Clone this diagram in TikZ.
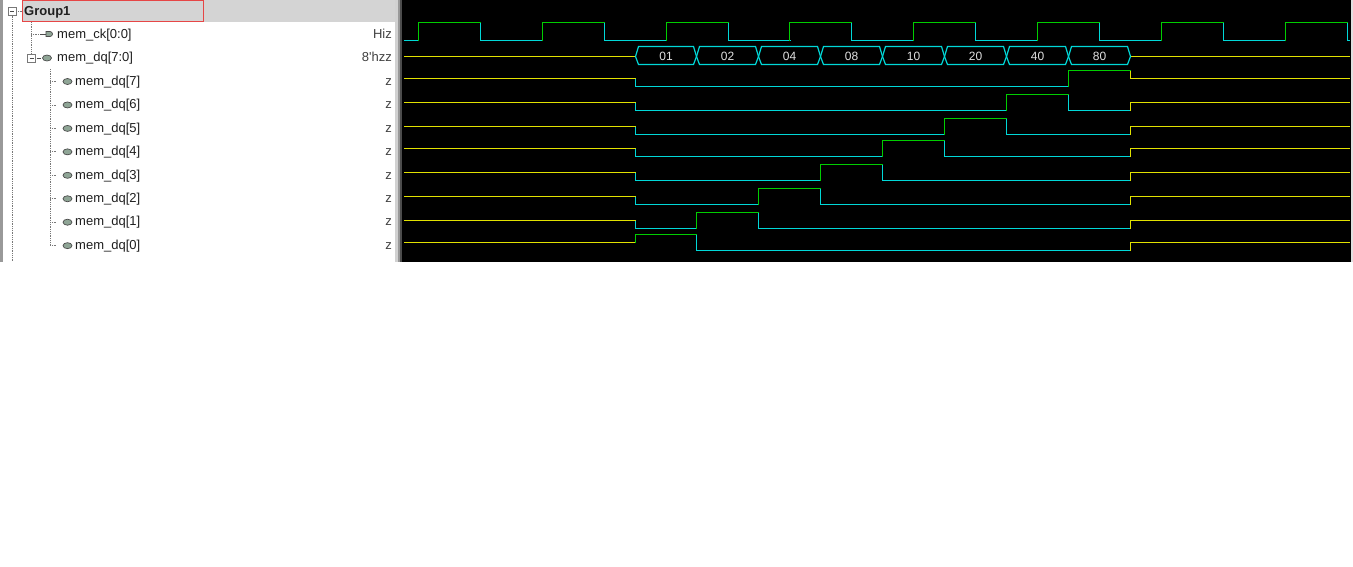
\documentclass[tikz,border=0pt]{standalone}
\usepackage{fontspec}
\setmainfont{Liberation Sans}
\definecolor{wgreen}{RGB}{0,205,0}
\definecolor{wcyan}{RGB}{0,215,215}
\definecolor{wyellow}{RGB}{225,225,0}
\definecolor{hdrgray}{RGB}{212,212,212}
\definecolor{treegray}{RGB}{120,120,120}
\definecolor{pinfill}{RGB}{143,165,150}
\definecolor{boxred}{RGB}{230,70,70}
\definecolor{hexcol}{RGB}{225,225,225}
\begin{document}
\begin{tikzpicture}[x=1pt,y=-1pt,
  hiw/.style={wgreen,line width=1.3pt},
  low/.style={wcyan,line width=1.3pt},
  zw/.style={wyellow,line width=1.3pt},
  busbox/.style={draw=wcyan,line width=1.2pt},
  treeline/.style={treegray,densely dotted,line width=0.8pt},
  exbox/.style={draw=treegray,fill=white,line width=0.8pt},
  pin/.style={draw=black!70,fill=pinfill,line width=0.7pt},
  namelabel/.style={anchor=base west,inner sep=0pt,font=\fontsize{13}{15}\selectfont,text=black!88},
  vallabel/.style={anchor=base east,inner sep=0pt,font=\fontsize{13}{15}\selectfont,text=black!75},
  hexlabel/.style={anchor=base,inner sep=0pt,font=\fontsize{12}{14}\selectfont,text=hexcol}]
\useasboundingbox (0,0) rectangle (1353,566);
\fill[white] (0,0) rectangle (1353,566);
% ---------- left panel ----------
\fill[black!40] (0,0) rectangle (2.5,262);
\fill[hdrgray] (22,0) rectangle (395,22);
\draw[boxred,line width=1pt] (22.5,0.5) rectangle (203.5,21.5);
% separator
\fill[black!18] (395,0) rectangle (398,262);
\fill[black!40] (398,0) rectangle (400,262);
\fill[black!70] (400,0) rectangle (402,262);
% tree lines
\draw[treeline] (12,15.5) -- (12,262);
\draw[treeline] (16,11.5) -- (22,11.5);
\draw[exbox] (8,7.5) rectangle (16,15.5);
\draw[black!70,line width=0.8pt] (10,11.5) -- (14,11.5);
\draw[treeline] (31,22) -- (31,54);
\draw[treeline] (31,34) -- (41,34);
\draw[black!70,line width=0.8pt] (40,34) -- (46,34);
\draw[pin] (46,31.5) -- (50,31.5) arc[start angle=90,end angle=-90,radius=2.5pt] -- (46,36.5) -- cycle;
\draw[exbox] (27.5,54) rectangle (35.5,62);
\draw[black!70,line width=0.8pt] (29.5,58) -- (33.5,58);
\draw[black!70,line width=0.8pt] (36.5,58) -- (40.5,58);
\draw[pin] (47,58) ellipse [x radius=4.5pt,y radius=3pt];
\draw[treeline] (50,69) -- (50,245.5);
\foreach \r in {0,...,7}{
  \pgfmathsetmacro\yy{81.5+23.45*\r}
  \draw[treeline] (50,\yy) -- (57,\yy);
  \draw[pin] (67.5,\yy) ellipse [x radius=4.5pt,y radius=3pt];
}
% labels
\node[namelabel,font=\bfseries\fontsize{13}{15}\selectfont] (grp) at (24,15) {Group1};
\node[namelabel] (ck) at (57,38.3) {mem\_ck[0:0]};
\node[namelabel] (dq) at (57,61.8) {mem\_dq[7:0]};
\node[vallabel] (ckv) at (392,38.3) {Hiz};
\node[vallabel] (dqv) at (392,61.8) {8\textquotesingle hzz};
\foreach \b in {0,...,7}{
  \pgfmathsetmacro\yy{85.2+23.45*(7-\b)}
  \node[namelabel] (dq\b) at (75,\yy) {mem\_dq[\b]};
  \node[vallabel] (dqv\b) at (392,\yy) {z};
}
% ---------- waveform panel ----------
\fill[black] (402,0) rectangle (1351,262);
\fill[black!12] (1351,0) rectangle (1353,262);
% clock
\draw[low] (404,40.5) -- (418.5,40.5);
\foreach \k in {0,...,7}{
  \pgfmathsetmacro\ri{floor(418.3+123.9*\k)+0.5}
  \pgfmathsetmacro\fa{floor(480.3+123.9*\k)+0.5}
  \pgfmathsetmacro\en{min(\fa+62,1350)}
  \draw[hiw] (\ri,40.5) -- (\ri,22.5) -- (\fa,22.5);
  \draw[low] (\fa,22.5) -- (\fa,40.5) -- (\en,40.5);
}
% bus
\draw[zw] (404,56.5) -- (635.5,56.5);
\draw[zw] (1130.5,56.5) -- (1350,56.5);
\foreach \v [count=\i from 0] in {01,02,04,08,10,20,40,80}{
  \pgfmathsetmacro\xa{floor(635+61.9*\i)+0.5}
  \pgfmathsetmacro\xb{floor(635+61.9*(\i+1))+0.5}
  \draw[busbox] (\xa,56.5) -- (\xa+3,46.5) -- (\xb-3,46.5) -- (\xb,56.5) -- (\xb-3,64.5) -- (\xa+3,64.5) -- cycle;
  \node[hexlabel] (hx\i) at ({(\xa+\xb)/2},60.5) {\v};
}
% bits
\foreach \b in {0,...,7}{
  \pgfmathsetmacro\yz{2*floor((79+23.5*(7-\b))/2)+0.5}
  \pgfmathsetmacro\yh{2*floor((\yz-8.5)/2)+0.5}
  \pgfmathsetmacro\yl{2*floor((\yz+9.3)/2)+0.5}
  \pgfmathsetmacro\ta{floor(635+61.9*\b)+0.5}
  \pgfmathsetmacro\tb{floor(635+61.9*(\b+1))+0.5}
  \pgfmathsetmacro\ys{\b==0 ? \yz : \yl}
  \pgfmathsetmacro\ye{\b==7 ? \yh : \yl}
  \draw[zw] (404,\yz) -- (635.5,\yz);
  \ifnum\b>0
    \draw[low] (635.5,\yz) -- (635.5,\yl) -- (\ta,\yl);
  \fi
  \draw[hiw] (\ta,\ys) -- (\ta,\yh) -- (\tb,\yh);
  \ifnum\b<7
    \draw[low] (\tb,\yh) -- (\tb,\yl) -- (1130.5,\yl);
  \fi
  \draw[zw] (1130.5,\ye) -- (1130.5,\yz) -- (1350,\yz);
}
\end{tikzpicture}
\end{document}
